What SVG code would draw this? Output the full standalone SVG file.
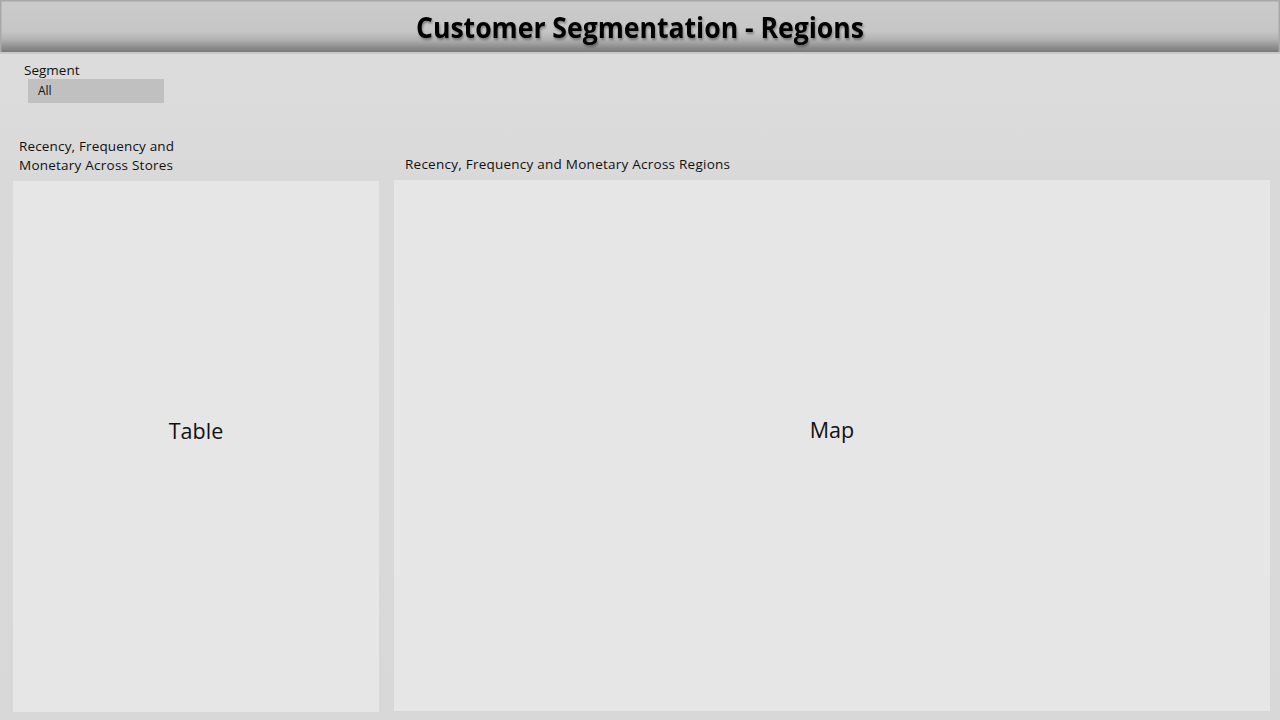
<svg xmlns="http://www.w3.org/2000/svg" width="1280" height="720" viewBox="0 0 1280 720">
  <defs>
    <linearGradient id="hdr" x1="0" y1="0" x2="0" y2="1">
      <stop offset="0" stop-color="#cbcbcb"/>
      <stop offset="0.6" stop-color="#c6c6c6"/>
      <stop offset="0.75" stop-color="#b4b4b4"/>
      <stop offset="0.92" stop-color="#8a8a8a"/>
      <stop offset="1" stop-color="#7a7a7a"/>
    </linearGradient>
    <linearGradient id="bg" x1="0" y1="0" x2="0" y2="1">
      <stop offset="0" stop-color="#dedede"/>
      <stop offset="0.25" stop-color="#d9d9d9"/>
      <stop offset="1" stop-color="#d8d8d8"/>
    </linearGradient>
    <filter id="sh" x="-5%" y="-20%" width="110%" height="140%">
      <feGaussianBlur in="SourceAlpha" stdDeviation="1"/>
      <feOffset dx="1" dy="1.5" result="b"/>
      <feFlood flood-color="#000" flood-opacity="0.35"/>
      <feComposite in2="b" operator="in"/>
      <feMerge><feMergeNode/><feMergeNode in="SourceGraphic"/></feMerge>
    </filter>
  </defs>
  <style>
    .lbl { font-family: "Open Sans", "Noto Sans", "Liberation Sans", sans-serif; font-size: 13.5px; fill: #111; }
    .box { fill: #e6e6e6; }
    .big { font-family: "Open Sans", "Noto Sans", "Liberation Sans", sans-serif; font-size: 21.5px; fill: #111; text-anchor: middle; }
  </style>
  <rect x="0" y="0" width="1280" height="720" fill="url(#bg)"/>
  <g id="header">
    <rect x="0" y="0" width="1280" height="52" fill="url(#hdr)"/>
    <rect x="0" y="0" width="1280" height="1.5" fill="#a8a8a8"/>
    <rect x="0" y="0" width="1.5" height="52" fill="#a8a8a8"/>
    <rect x="1278.5" y="0" width="1.5" height="52" fill="#a8a8a8"/>
    <rect x="0" y="52" width="1280" height="2" fill="#c9c9c9"/>
    <text x="640" y="37.5" text-anchor="middle" font-family="'Open Sans', 'Noto Sans', 'Liberation Sans', sans-serif" font-weight="bold" font-size="28" fill="#000" textLength="448" lengthAdjust="spacingAndGlyphs" filter="url(#sh)">Customer Segmentation - Regions</text>
  </g>
  <g id="slicer">
    <text class="lbl" x="24" y="75">Segment</text>
    <rect x="28" y="79" width="136" height="24" fill="#c0c0c0"/>
    <text x="38" y="95" font-family="'Open Sans', 'Noto Sans', 'Liberation Sans', sans-serif" font-size="12" fill="#111">All</text>
  </g>
  <g id="table">
    <text class="lbl" x="19" y="151" textLength="155" lengthAdjust="spacing">Recency, Frequency and</text>
    <text class="lbl" x="19" y="170" textLength="154" lengthAdjust="spacing">Monetary Across Stores</text>
    <rect class="box" x="13" y="181" width="366" height="531"/>
    <text class="big" x="196" y="439">Table</text>
  </g>
  <g id="map">
    <text class="lbl" x="405" y="169" textLength="325" lengthAdjust="spacing">Recency, Frequency and Monetary Across Regions</text>
    <rect class="box" x="394" y="180" width="876" height="531"/>
    <text class="big" x="832" y="438">Map</text>
  </g>
  <g id="connectors"/>
</svg>
